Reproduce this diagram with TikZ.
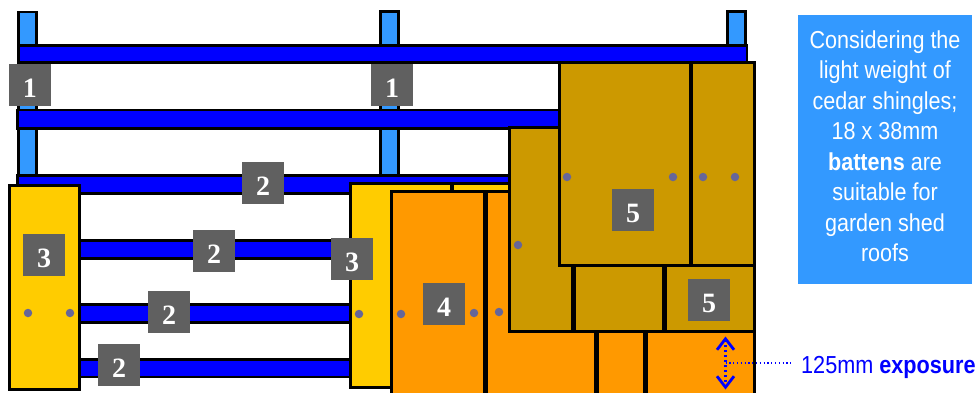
\documentclass[tikz,border=0pt]{standalone}
\usepackage{fontspec}
\setmainfont{Liberation Sans}
\newfontfamily\numfont{Liberation Serif}
\newfontfamily\narrowfont[FakeStretch=0.88]{Liberation Sans}
\usetikzlibrary{arrows.meta}
\definecolor{rafterblue}{HTML}{3399FF}
\definecolor{battenblue}{HTML}{0000FF}
\definecolor{yellowshingle}{HTML}{FFCC00}
\definecolor{orangeshingle}{HTML}{FF9900}
\definecolor{goldshingle}{HTML}{CC9900}
\definecolor{tagcolor}{HTML}{606060}
\definecolor{nailcolor}{HTML}{666699}
\tikzset{
  x=1pt,y=-1pt,
  part/.style={draw=black,line width=3pt,inner sep=0pt,outer sep=0pt},
  rafter/.style={part,fill=rafterblue,line width=2.5pt},
  batten/.style={part,fill=battenblue,line width=2.5pt},
  yshingle/.style={part,fill=yellowshingle},
  oshingle/.style={part,fill=orangeshingle},
  gshingle/.style={part,fill=goldshingle},
  tag/.style={fill=tagcolor,text=white,minimum width=42pt,minimum height=42pt,inner sep=0pt,
    text height=24pt,text depth=0pt,
    font=\numfont\bfseries\fontsize{28pt}{28pt}\selectfont},
  nail/.style={circle,fill=nailcolor,minimum size=8.5pt,inner sep=0pt},
  dim/.style={battenblue,line width=2.2pt,dash pattern=on 2pt off 3pt,
    >={Straight Barb[length=11pt,width=17pt,line width=2.8pt]}},
  leader/.style={battenblue,line width=1.2pt,dash pattern=on 1.2pt off 2.6pt},
}
\newcommand{\bx}[6]{% name, style, x1, y1, x2, y2
  \pgfmathsetmacro{\bxw}{#5-#3}\pgfmathsetmacro{\bxh}{#6-#4}
  \pgfmathsetmacro{\bxcx}{(#3+#5)/2}\pgfmathsetmacro{\bxcy}{(#4+#6)/2}
  \node[#2,minimum width=\bxw pt,minimum height=\bxh pt] (#1) at (\bxcx,\bxcy) {};}
\begin{document}
\begin{tikzpicture}
\useasboundingbox (0,0) rectangle (979,392);
\clip (0,0) rectangle (979,392);
% rafters
\bx{rA}{rafter}{18.5}{12}{36.5}{180}
\bx{rB}{rafter}{380.5}{11.5}{398.5}{180}
\bx{rC}{rafter}{727.5}{11.5}{745.5}{60}
% battens
\bx{bA}{batten}{19}{45.5}{747}{62.5}
\bx{bB}{batten}{17.5}{110}{600}{128.5}
\bx{bC}{batten}{17.5}{175.5}{530}{193.5}
\bx{bD}{batten}{60}{240.5}{370}{258.5}
\bx{bE}{batten}{60}{304.5}{370}{322.5}
\bx{bF}{batten}{60}{359.5}{370}{377}
% yellow shingles
\bx{yA}{yshingle}{9.5}{185.5}{79.5}{389}
\bx{yB}{yshingle}{350.5}{183.5}{451.2}{387}
\bx{yC}{yshingle}{452.8}{183.5}{530}{387}
% orange shingles
\bx{oA}{oshingle}{391.5}{191.5}{484.6}{400}
\bx{oB}{oshingle}{486.4}{191.5}{595.3}{400}
\bx{oC}{oshingle}{597.1}{300}{644.6}{400}
\bx{oD}{oshingle}{646.4}{300}{754.5}{400}
% gold shingles
\bx{gA}{gshingle}{509.5}{127.5}{572.5}{331}
\bx{gB}{gshingle}{574.1}{262}{663.8}{331}
\bx{gC}{gshingle}{665.6}{262}{754.5}{331}
\bx{gD}{gshingle}{559.5}{62.5}{690}{265.5}
\bx{gE}{gshingle}{691.5}{62.5}{754.5}{265.5}
% nails
\node[nail] (n1) at (28,313) {};
\node[nail] (n2) at (70,313) {};
\node[nail] (n3) at (359,314) {};
\node[nail] (n4) at (401,314) {};
\node[nail] (n5) at (474,313) {};
\node[nail] (n6) at (499,312) {};
\node[nail] (n7) at (518,245) {};
\node[nail] (n8) at (567,177) {};
\node[nail] (n9) at (673,177) {};
\node[nail] (n10) at (703,177) {};
\node[nail] (n11) at (735,177) {};
% number tags
\node[tag] (t1a) at (30,85) {1};
\node[tag] (t1b) at (392,85) {1};
\node[tag] (t2a) at (263,183) {2};
\node[tag] (t2b) at (214,251) {2};
\node[tag] (t2c) at (169,312) {2};
\node[tag] (t2d) at (119,365) {2};
\node[tag] (t3a) at (44,255) {3};
\node[tag] (t3b) at (352,259) {3};
\node[tag] (t4) at (444,304) {4};
\node[tag] (t5a) at (633,210) {5};
\node[tag] (t5b) at (709,300) {5};
% exposure dimension
\coordinate (dimTop) at (725.5,336.5);
\coordinate (dimBot) at (725.5,389.5);
\coordinate (dimMid) at (725.5,363);
\coordinate (leadEnd) at (792,363);
\draw[dim,<->] (dimTop) -- (dimBot);
\draw[leader] (dimMid) -- (leadEnd);
\node[anchor=west,text=battenblue,inner sep=0pt,font=\narrowfont\fontsize{24.6pt}{28pt}\selectfont] (explabel) at (801,367) {125mm \textbf{exposure}};
% note box
\node[fill=rafterblue,minimum width=174pt,minimum height=269pt,inner sep=0pt] (noteBox) at (885,149.5) {};
\node[text=white,inner sep=0pt,align=center,font=\narrowfont\fontsize{24.5pt}{30.5pt}\selectfont] (note) at (885,146)
  {Considering the\\light weight of\\cedar shingles;\\18 x 38mm\\\textbf{battens} are\\suitable for\\garden shed\\roofs};
\end{tikzpicture}
\end{document}
